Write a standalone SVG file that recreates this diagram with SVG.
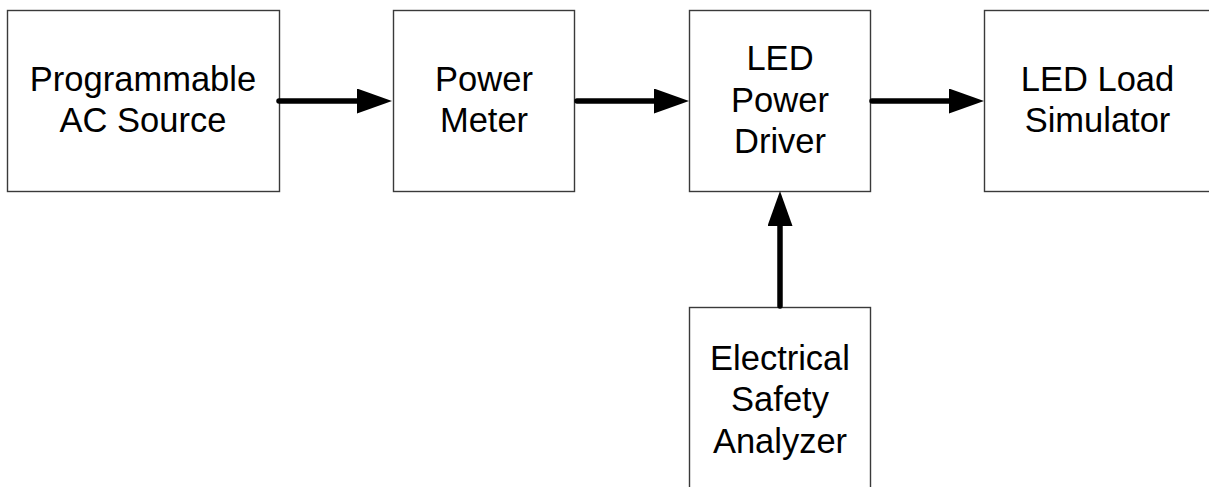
<svg xmlns="http://www.w3.org/2000/svg" width="1209" height="487" viewBox="0 0 1209 487">
  <style>
    .box { fill: #ffffff; stroke: #3a3a3a; stroke-width: 1.4; }
    .lbl { font-family: "Liberation Sans", Arial, sans-serif; font-size: 34.5px; fill: #000000; text-anchor: middle; }
    .conn { stroke: #000000; stroke-width: 5.5; stroke-linecap: round; fill: none; marker-end: url(#arrow); }
  </style>
  <defs>
    <marker id="arrow" markerUnits="userSpaceOnUse" markerWidth="36" markerHeight="26" refX="2" refY="12.5" orient="auto">
      <path d="M0,0 L35,12.5 L0,25 z" fill="#000000"/>
    </marker>
  </defs>
  <rect width="1209" height="487" fill="#ffffff"/>

  <g id="node-ac-source">
    <rect class="box" x="7.5" y="10.5" width="272" height="181"/>
    <text class="lbl" x="143" y="90.5">Programmable</text>
    <text class="lbl" x="143" y="132">AC Source</text>
  </g>

  <g id="node-power-meter">
    <rect class="box" x="393.5" y="10.5" width="181" height="181"/>
    <text class="lbl" x="484" y="90.5">Power</text>
    <text class="lbl" x="484" y="132">Meter</text>
  </g>

  <g id="node-led-driver">
    <rect class="box" x="689.5" y="10.5" width="181" height="181"/>
    <text class="lbl" x="780" y="70">LED</text>
    <text class="lbl" x="780" y="111.5">Power</text>
    <text class="lbl" x="780" y="153">Driver</text>
  </g>

  <g id="node-led-load">
    <rect class="box" x="984.5" y="10.5" width="228" height="181"/>
    <text class="lbl" x="1097.5" y="90.5">LED Load</text>
    <text class="lbl" x="1097.5" y="132">Simulator</text>
  </g>

  <g id="node-safety-analyzer">
    <rect class="box" x="689.5" y="307.5" width="181" height="200"/>
    <text class="lbl" x="780" y="369.5">Electrical</text>
    <text class="lbl" x="780" y="411">Safety</text>
    <text class="lbl" x="780" y="452.5">Analyzer</text>
  </g>

  <g id="connectors">
    <line class="conn" x1="279" y1="101" x2="359" y2="101"/>
    <line class="conn" x1="577" y1="101" x2="656" y2="101"/>
    <line class="conn" x1="872" y1="101" x2="951" y2="101"/>
    <line class="conn" x1="780" y1="306" x2="780" y2="224"/>
  </g>
</svg>
